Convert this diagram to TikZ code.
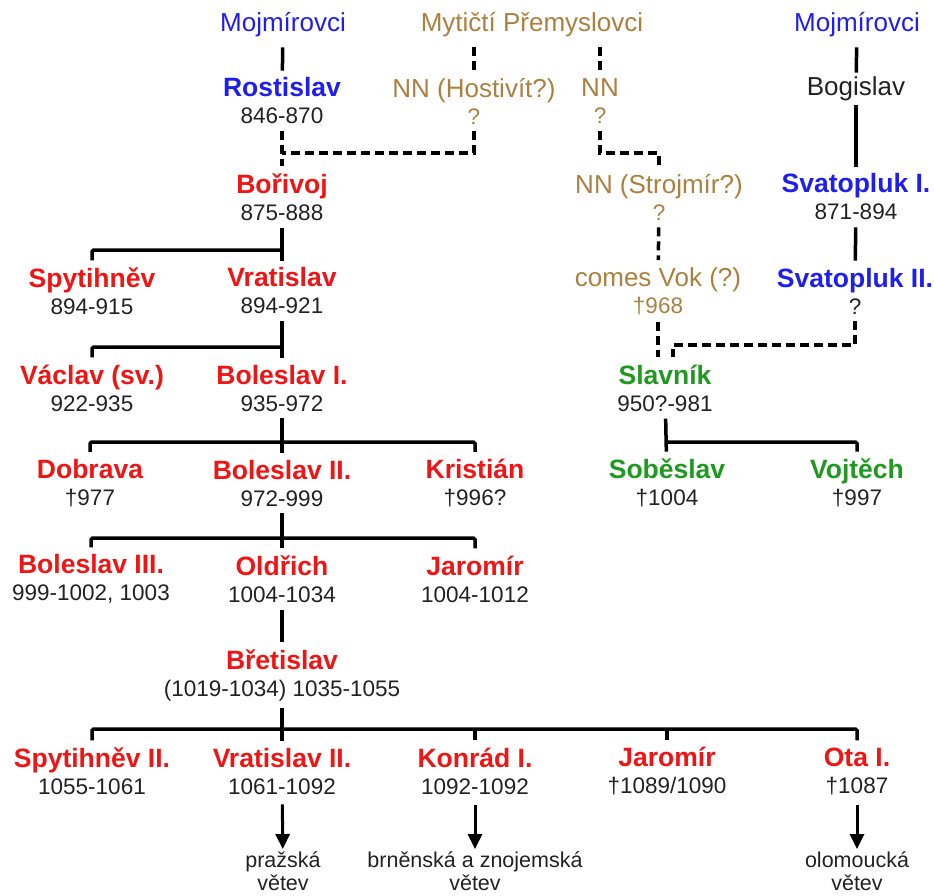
\documentclass[tikz,border=0pt]{standalone}
\usepackage{fontspec}
\setmainfont{Liberation Sans}
\usetikzlibrary{arrows.meta}

\definecolor{mojblue}{RGB}{30,30,240}
\definecolor{premred}{RGB}{240,20,20}
\definecolor{mythbrown}{RGB}{172,128,64}
\definecolor{slavgreen}{RGB}{30,155,30}
\definecolor{yeargray}{RGB}{34,34,34}

\newcommand{\nm}[1]{{\fontsize{26.5}{27}\selectfont\bfseries #1}}
\newcommand{\tx}[1]{{\fontsize{26}{27}\selectfont #1}}
\newcommand{\yr}[1]{{\color{yeargray}#1}}

\tikzset{
    person/.style={align=center, inner xsep=1pt, inner ysep=7pt,
                   font=\fontsize{22.5}{27}\selectfont},
    moj/.style={person, text=mojblue},
    prem/.style={person, text=premred},
    myth/.style={person, text=mythbrown},
    slav/.style={person, text=slavgreen},
    house/.style={inner ysep=10pt, font=\fontsize{26}{27}\selectfont},
    branchname/.style={align=center, inner ysep=2pt, text=yeargray,
                       font=\fontsize{21.5}{23.5}\selectfont},
    tie/.style={line width=3.5pt, rounded corners=1.5pt},
    dashtie/.style={line width=3.5pt, dash pattern=on 9pt off 5pt},
}

\begin{document}
\begin{tikzpicture}[x=1pt, y=-1pt]
\useasboundingbox (0,0) rectangle (934,895);

\begin{scope}
    \node (mojL) at (283, 25) [house, text=mojblue] {Mojmírovci};
    \node (myth) at (532, 25) [house, text=mythbrown] {Mytičtí Přemyslovci};
    \node (mojR) at (857, 25) [house, text=mojblue] {Mojmírovci};

    \node (rostislav) at (282, 101) [moj] {\nm{Rostislav}\\\yr{846-870}};
    \node (hostivit) at (474, 101) [myth] {\tx{NN (Hostivít?)}\\?};
    \node (nnR) at (600, 101) [myth] {\tx{NN}\\?};
    \node (bogislav) at (856, 89) [house, inner ysep=4pt, text=yeargray] {Bogislav};

    \node (borivoj) at (282, 197) [prem] {\nm{Bořivoj}\\\yr{875-888}};
    \node (strojmir) at (659, 197) [myth] {\tx{NN (Strojmír?)}\\?};
    \node (svat1) at (856, 197) [moj] {\nm{Svatopluk I.}\\\yr{871-894}};

    \node (spytihnev) at (92, 291) [prem] {\nm{Spytihněv}\\\yr{894-915}};
    \node (vratislav) at (282, 291) [prem] {\nm{Vratislav}\\\yr{894-921}};
    \node (vok) at (658, 291) [myth] {\tx{comes Vok (?)}\\†968};
    \node (svat2) at (855, 291) [moj] {\nm{Svatopluk II.}\\\yr{?}};

    \node (vaclav) at (92, 388) [prem] {\nm{Václav (sv.)}\\\yr{922-935}};
    \node (boleslav1) at (282, 388) [prem] {\nm{Boleslav I.}\\\yr{935-972}};
    \node (slavnik) at (665, 388) [slav] {\nm{Slavník}\\\yr{950?-981}};

    \node (dobrava) at (90, 483) [prem] {\nm{Dobrava}\\\yr{†977}};
    \node (boleslav2) at (282, 483) [prem] {\nm{Boleslav II.}\\\yr{972-999}};
    \node (kristian) at (475, 483) [prem] {\nm{Kristián}\\\yr{†996?}};
    \node (sobeslav) at (667, 483) [slav] {\nm{Soběslav}\\\yr{†1004}};
    \node (vojtech) at (857, 483) [slav] {\nm{Vojtěch}\\\yr{†997}};

    \node (boleslav3) at (91, 579) [prem] {\nm{Boleslav III.}\\\yr{999-1002, 1003}};
    \node (oldrich) at (282, 579) [prem] {\nm{Oldřich}\\\yr{1004-1034}};
    \node (jaromir1) at (475, 579) [prem] {\nm{Jaromír}\\\yr{1004-1012}};

    \node (bretislav) at (282, 675) [prem] {\nm{Břetislav}\\\yr{(1019-1034) 1035-1055}};

    \node (spytihnev2) at (92, 771) [prem] {\nm{Spytihněv II.}\\\yr{1055-1061}};
    \node (vratislav2) at (282, 771) [prem] {\nm{Vratislav II.}\\\yr{1061-1092}};
    \node (konrad) at (475, 771) [prem] {\nm{Konrád I.}\\\yr{1092-1092}};
    \node (jaromir2) at (667, 771) [prem] {\nm{Jaromír}\\\yr{†1089/1090}};
    \node (ota) at (857, 771) [prem] {\nm{Ota I.}\\\yr{†1087}};

    \node (praha) at (283, 871) [branchname] {pražská\\větev};
    \node (brno) at (475, 871) [branchname] {brněnská a znojemská\\větev};
    \node (olomouc) at (857, 871) [branchname] {olomoucká\\větev};
\end{scope}

% junctions
\coordinate (jA) at (282, 153);
\coordinate (jB) at (659, 153);
\coordinate (jC) at (673, 345);
\coordinate (j1) at (282, 250);
\coordinate (j2) at (282, 347);
\coordinate (j3) at (282, 442);
\coordinate (j4) at (667, 442);
\coordinate (j5) at (282, 538);
\coordinate (j6) at (282, 729);

\begin{scope}[every edge/.style={draw, tie}]
    \path (mojL) edge (rostislav);
    \path (mojR) edge (bogislav);
    \path (bogislav) edge (svat1);
    \path (svat1) edge (svat2);

    \path (borivoj) edge (vratislav);
    \draw [tie] (spytihnev) |- (j1);
    \path (vratislav) edge (boleslav1);
    \draw [tie] (vaclav) |- (j2);
    \path (boleslav1) edge (boleslav2);
    \draw [tie] (dobrava) |- (j3) -| (kristian);
    \path (slavnik) edge (sobeslav);
    \draw [tie] (j4) -| (vojtech);
    \path (boleslav2) edge (oldrich);
    \draw [tie] (boleslav3) |- (j5) -| (jaromir1);
    \path (oldrich) edge (bretislav);
    \path (bretislav) edge (vratislav2);
    \draw [tie] (spytihnev2) |- (j6) -| (ota);
    \draw [tie] (konrad) -- (konrad |- j6);
    \draw [tie] (jaromir2) -- (jaromir2 |- j6);
\end{scope}

\begin{scope}[every edge/.style={draw, dashtie}]
    \path (myth.south -| hostivit) edge (hostivit);
    \path (myth.south -| nnR) edge (nnR);
    \path (rostislav) edge (borivoj);
    \draw [dashtie] (hostivit) |- (jA);
    \draw [dashtie] (nnR) |- (jB) -- (strojmir);
    \path (strojmir) edge (vok);
    \path (vok) edge (vok |- slavnik.north);
    \draw [dashtie] (svat2) |- (jC) -- (jC |- slavnik.north);
\end{scope}

\begin{scope}[>={Triangle[length=15pt, width=14pt]},
              every edge/.style={draw, line width=3pt, shorten <=3pt}]
    \path [->] (vratislav2) edge (praha);
    \path [->] (konrad) edge (brno);
    \path [->] (ota) edge (olomouc);
\end{scope}
\end{tikzpicture}
\end{document}
